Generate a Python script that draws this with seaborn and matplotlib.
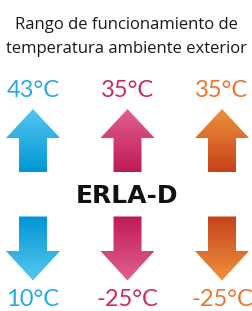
import numpy as np
import matplotlib
matplotlib.use("Agg")
import matplotlib.pyplot as plt
import seaborn as sns
from matplotlib.patches import Polygon
from matplotlib.colors import LinearSegmentedColormap

# ---- data ----
title_lines = ["Rango de funcionamiento de", "temperatura ambiente exterior"]
model = "ERLA-D"
modes = ["cool", "heat", "dhw"]
max_temps = [43, 35, 35]
min_temps = [10, -25, -25]
text_colors = ["#29a8e0", "#cc2a63", "#ea7630"]
grad_light = ["#56c8ef", "#e3608f", "#f0913e"]
grad_dark = ["#0095d5", "#bf1a58", "#c6421a"]

sns.set_theme(style="white")
plt.rcParams['font.family'] = ['Open Sans', 'DejaVu Sans']

W, H = 253, 311
fig = plt.figure(figsize=(W / 100, H / 100), dpi=100)
ax = fig.add_axes([0, 0, 1, 1])
unit = 94.5
x0 = 33
ax.set_xlim(-x0 / unit, (W - x0) / unit)
ax.set_ylim(H, 0)
ax.axis("off")
sns.despine(ax=ax, left=True, bottom=True)

head_hw = 27 / unit
shaft_hw = 14 / unit


def arrow(ax, xc, tip, head_base, shaft_end, light, dark):
    pts = [(xc, tip), (xc + head_hw, head_base), (xc + shaft_hw, head_base),
           (xc + shaft_hw, shaft_end), (xc - shaft_hw, shaft_end),
           (xc - shaft_hw, head_base), (xc - head_hw, head_base)]
    poly = Polygon(pts, closed=True, facecolor="none", edgecolor="none")
    ax.add_patch(poly)
    cmap = LinearSegmentedColormap.from_list("g", [light, dark])
    grad = np.linspace(0, 1, 256).reshape(-1, 1)
    if tip > shaft_end:  # down arrow: light at tip (bottom)
        grad = grad[::-1]
    top, bot = min(tip, shaft_end), max(tip, shaft_end)
    im = ax.imshow(grad, cmap=cmap, aspect="auto",
                   extent=[xc - head_hw, xc + head_hw, bot, top],
                   interpolation="bilinear", origin="upper")
    im.set_clip_path(poly)


num_font = dict(fontsize=17, fontweight="normal", family=["Lato", "DejaVu Sans"])
for i, m in enumerate(modes):
    arrow(ax, i, 109, 138, 172.5, grad_light[i], grad_dark[i])
    arrow(ax, i, 280.5, 251, 216.5, grad_light[i], grad_dark[i])
    ax.text(i, 97, f"{max_temps[i]}°C", color=text_colors[i], ha="center",
            va="baseline", **num_font)
    ax.text(i, 306, f"{min_temps[i]}°C", color=text_colors[i], ha="center",
            va="baseline", **num_font)

xm = (W / 2 - x0) / unit
ax.text(xm, 29, title_lines[0], ha="center", va="baseline", fontsize=12, color="#1a1a1a")
ax.text(xm, 53, title_lines[1], ha="center", va="baseline", fontsize=12, color="#1a1a1a")
ax.text(1, 203, model, ha="center", va="baseline", fontsize=18, fontweight="bold",
        color="#111111", family="DejaVu Sans")

fig.savefig("out.png", dpi=100, facecolor="white")
